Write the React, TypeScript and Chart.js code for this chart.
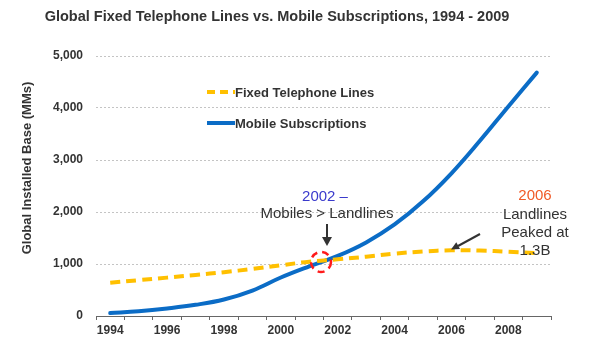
import React, { useEffect, useRef } from "react";
import { Chart, registerables } from "chart.js";

Chart.register(...registerables);

const years = ["1994","1995","1996","1997","1998","1999","2000","2001","2002","2003","2004","2005","2006","2007","2008","2009"];
const mobileSubs = [56, 91, 145, 215, 318, 490, 740, 955, 1155, 1415, 1760, 2205, 2745, 3370, 4030, 4680];
const fixedLines = [640, 689, 738, 790, 843, 905, 975, 1045, 1090, 1140, 1200, 1240, 1265, 1258, 1235, 1210];
const yTicks = [0, 1000, 2000, 3000, 4000, 5000];

const FONT = 'Arial, "Liberation Sans", sans-serif';
const BLUE = "#0b6cc6";
const YELLOW = "#ffc000";
const TEXT = "#333333";

const overlay = {
  id: "overlay",
  afterDraw(chart: any) {
    const ctx = chart.ctx as CanvasRenderingContext2D;
    ctx.save();
    // Title
    ctx.fillStyle = TEXT;
    ctx.font = `bold 14.5px ${FONT}`;
    ctx.textAlign = "center";
    ctx.textBaseline = "middle";
    ctx.fillText("Global Fixed Telephone Lines vs. Mobile Subscriptions, 1994 - 2009", 277, 17);

    // Y axis title
    ctx.save();
    ctx.translate(27, 168);
    ctx.rotate(-Math.PI / 2);
    ctx.font = `bold 13px ${FONT}`;
    ctx.fillText("Global Installed Base (MMs)", 0, 0);
    ctx.restore();

    // Legend
    ctx.lineWidth = 4;
    ctx.strokeStyle = YELLOW;
    ctx.setLineDash([8, 5]);
    ctx.beginPath();
    ctx.moveTo(207, 92);
    ctx.lineTo(235, 92);
    ctx.stroke();
    ctx.setLineDash([]);
    ctx.strokeStyle = BLUE;
    ctx.beginPath();
    ctx.moveTo(207, 123);
    ctx.lineTo(235, 123);
    ctx.stroke();
    ctx.font = `bold 13px ${FONT}`;
    ctx.textAlign = "left";
    ctx.fillStyle = TEXT;
    ctx.fillText("Fixed Telephone Lines", 235, 93);
    ctx.fillText("Mobile Subscriptions", 235, 124);

    // 2002 annotation
    ctx.textAlign = "center";
    ctx.font = `15px ${FONT}`;
    ctx.fillStyle = "#3a3acc";
    ctx.fillText("2002 \u2013", 325, 197);
    ctx.fillStyle = TEXT;
    ctx.fillText("Mobiles > Landlines", 327, 214);
    // arrow down
    ctx.strokeStyle = "#333";
    ctx.lineWidth = 2;
    ctx.beginPath();
    ctx.moveTo(327, 224);
    ctx.lineTo(327, 238);
    ctx.stroke();
    ctx.fillStyle = "#333";
    ctx.beginPath();
    ctx.moveTo(322, 237);
    ctx.lineTo(332, 237);
    ctx.lineTo(327, 246);
    ctx.closePath();
    ctx.fill();

    // red dashed ellipse
    ctx.strokeStyle = "#ff1a1a";
    ctx.lineWidth = 2.5;
    ctx.setLineDash([7, 5]);
    ctx.beginPath();
    ctx.ellipse(321, 262, 10, 10, 0, 0, Math.PI * 2);
    ctx.stroke();
    ctx.setLineDash([]);

    // 2006 annotation
    ctx.font = `15px ${FONT}`;
    ctx.fillStyle = "#f05a28";
    ctx.fillText("2006", 535, 196);
    ctx.fillStyle = TEXT;
    ctx.fillText("Landlines", 535, 215);
    ctx.fillText("Peaked at", 535, 233);
    ctx.fillText("1.3B", 535, 251);
    // arrow
    ctx.strokeStyle = "#333";
    ctx.lineWidth = 2;
    ctx.beginPath();
    ctx.moveTo(480, 234);
    ctx.lineTo(458, 246);
    ctx.stroke();
    ctx.beginPath();
    const ang = Math.atan2(249 - 234, 452 - 480);
    ctx.moveTo(451, 249.5);
    ctx.lineTo(451 - 9 * Math.cos(ang - 0.45), 249.5 - 9 * Math.sin(ang - 0.45));
    ctx.lineTo(451 - 9 * Math.cos(ang + 0.45), 249.5 - 9 * Math.sin(ang + 0.45));
    ctx.closePath();
    ctx.fill();
    ctx.restore();
  },
};

export default function App() {
  const ref = useRef<HTMLCanvasElement | null>(null);
  useEffect(() => {
    if (!ref.current) return;
    const chart = new Chart(ref.current, {
      type: "line",
      data: {
        labels: years,
        datasets: [
          {
            label: "Fixed Telephone Lines",
            data: fixedLines,
            borderColor: YELLOW,
            borderWidth: 4,
            borderDash: [10, 6],
            pointRadius: 0,
            tension: 0.4,
            fill: false,
            borderCapStyle: "butt",
          },
          {
            label: "Mobile Subscriptions",
            data: mobileSubs,
            borderColor: BLUE,
            borderWidth: 4,
            pointRadius: 0,
            tension: 0.4,
            fill: false,
            borderCapStyle: "round",
          },
        ],
      },
      options: {
        animation: false,
        responsive: false,
        maintainAspectRatio: false,
        layout: { padding: { left: 0, right: 49, top: 56, bottom: 0 } },
        plugins: { legend: { display: false }, title: { display: false }, tooltip: { enabled: false } },
        scales: {
          x: {
            type: "category",
            offset: true,
            grid: {
              offset: true,
              drawOnChartArea: false,
              drawTicks: true,
              tickLength: 4,
              color: "#666",
            },
            border: { display: true, color: "#666", width: 1 },
            ticks: {
              autoSkip: false,
              maxRotation: 0,
              padding: 3,
              color: TEXT,
              font: { family: FONT, size: 12, weight: "bold" },
              callback: (_v: any, i: number) => (i % 2 === 0 ? years[i] : ""),
            },
            afterFit: (s: any) => { s.height = 36; },
          },
          y: {
            min: yTicks[0],
            max: yTicks[yTicks.length - 1],
            afterBuildTicks: (s: any) => { s.ticks = yTicks.map((v) => ({ value: v })); },
            grid: {
              drawTicks: false,
              color: (c: any) => (c.tick && c.tick.value === 0 ? "rgba(0,0,0,0)" : "#c4c4c4"),
              lineWidth: 1,
            },
            border: { display: false, dash: [2, 2] },
            ticks: {
              padding: 13,
              color: TEXT,
              font: { family: FONT, size: 12, weight: "bold" },
              callback: (v: any) => Number(v).toLocaleString("en-US"),
            },
            afterFit: (s: any) => { s.width = 96; },
          },
        },
      },
      plugins: [overlay],
    });
    return () => chart.destroy();
  }, []);
  return (
    <div style={{ position: "absolute", left: 0, top: 0, width: 600, height: 352, background: "#fff" }}>
      <canvas ref={ref} width={600} height={352} style={{ width: 600, height: 352 }} />
    </div>
  );
}
